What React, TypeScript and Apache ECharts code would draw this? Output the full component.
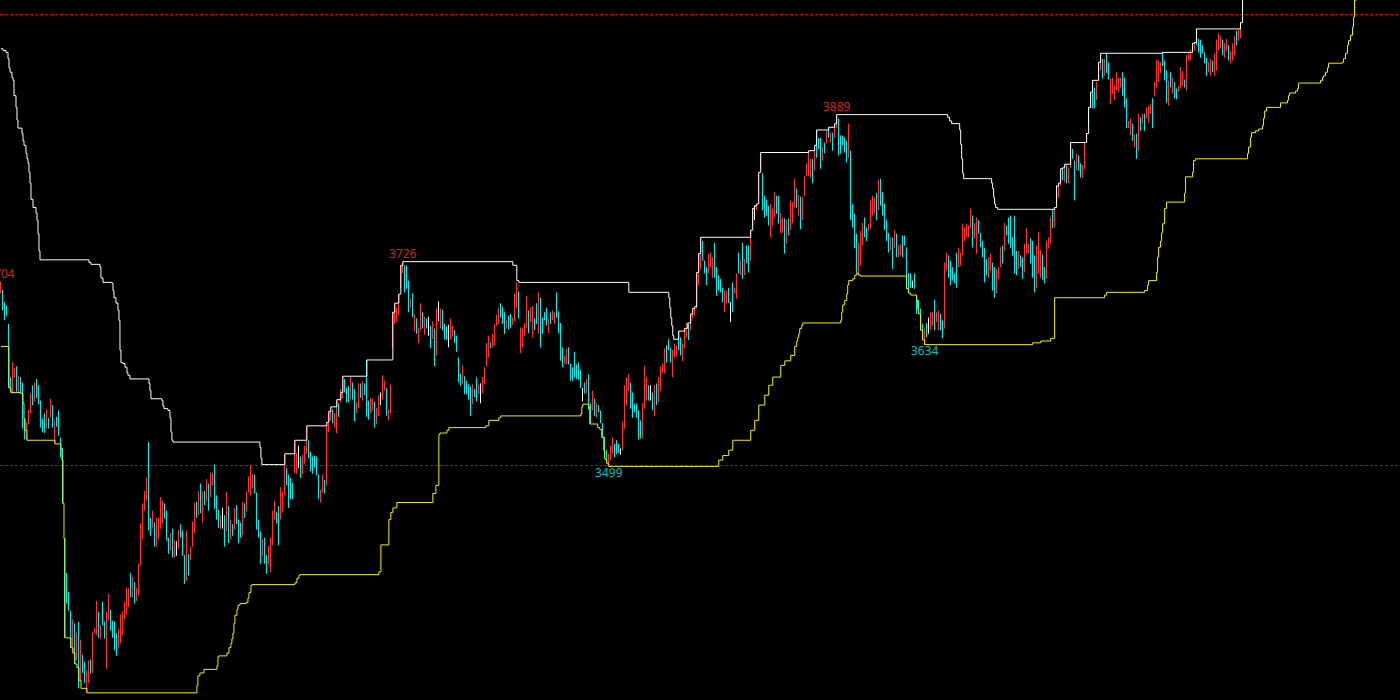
import React, { useEffect, useRef } from "react";
import * as echarts from "echarts";

// ---- candle data (index 0 = first visible bar) ----
const highs = [
  3704,3695,3681,3677,3657,3598,3615,3608,3610,3599,
  3598,3592,3551,3548,3562,3580,3589,3592,3596,3589,
  3572,3552,3558,3562,3553,3574,3567,3550,3554,3561,
  3531,3519,3419,3381,3360,3339,3330,3325,3315,3327,
  3307,3290,3282,3273,3284,3285,3315,3320,3350,3338,
  3323,3349,3327,3338,3358,3340,3328,3327,3314,3318,
  3335,3338,3349,3365,3364,3381,3377,3371,3364,3391,
  3436,3458,3472,3487,3526,3442,3450,3437,3442,3442,
  3465,3461,3458,3450,3420,3425,3430,3417,3416,3429,
  3435,3428,3401,3428,3402,3410,3438,3459,3460,3472,
  3480,3471,3472,3485,3480,3492,3492,3501,3467,3451,
  3445,3453,3445,3471,3455,3440,3435,3453,3456,3440,
  3437,3460,3458,3471,3488,3500,3490,3490,3470,3440,
  3427,3418,3420,3401,3411,3420,3450,3461,3448,3455,
  3476,3471,3513,3497,3490,3486,3481,3528,3514,3522,
  3510,3512,3522,3544,3528,3515,3510,3511,3510,3490,
  3473,3490,3484,3548,3560,3565,3562,3558,3573,3569,
  3585,3599,3596,3586,3588,3599,3592,3585,3570,3591,
  3591,3593,3591,3617,3572,3575,3574,3571,3564,3578,
  3581,3600,3594,3586,3562,3590,3670,3680,3675,3690,
  3722,3726,3722,3722,3705,3685,3691,3668,3663,3653,
  3680,3670,3665,3663,3665,3655,3660,3652,3674,3682,
  3674,3673,3657,3654,3656,3663,3655,3650,3644,3620,
  3602,3611,3599,3594,3590,3588,3590,3585,3598,3590,
  3591,3598,3609,3636,3644,3636,3646,3657,3667,3675,
  3680,3676,3670,3661,3666,3668,3664,3691,3703,3693,
  3653,3652,3658,3688,3672,3675,3677,3663,3680,3692,
  3686,3664,3670,3675,3663,3670,3672,3670,3692,3671,
  3658,3631,3622,3630,3631,3613,3609,3626,3612,3614,
  3606,3586,3592,3596,3601,3569,3583,3574,3569,3567,
  3561,3547,3532,3517,3513,3522,3531,3524,3528,3524,
  3519,3548,3589,3598,3601,3592,3581,3568,3569,3561,
  3550,3569,3610,3598,3589,3589,3581,3589,3591,3598,
  3610,3613,3630,3633,3640,3630,3628,3635,3633,3649,
  3642,3635,3652,3658,3657,3668,3674,3676,3714,3735,
  3753,3749,3727,3720,3735,3736,3731,3747,3720,3711,
  3707,3697,3694,3694,3697,3681,3703,3697,3713,3736,
  3727,3747,3729,3744,3744,3761,3785,3788,3790,3825,
  3847,3824,3799,3795,3788,3790,3785,3803,3799,3799,
  3780,3775,3774,3772,3774,3794,3792,3818,3807,3800,
  3798,3798,3821,3835,3849,3840,3840,3853,3872,3863,
  3863,3853,3858,3871,3875,3869,3869,3879,3889,3885,
  3866,3866,3864,3860,3879,3849,3790,3779,3757,3747,
  3760,3769,3775,3764,3768,3794,3799,3797,3802,3817,
  3818,3803,3790,3772,3758,3753,3753,3761,3757,3744,
  3746,3755,3755,3742,3713,3713,3705,3713,3688,3684,
  3674,3657,3652,3658,3664,3670,3670,3684,3670,3672,
  3668,3661,3725,3736,3733,3727,3720,3713,3736,3741,
  3736,3768,3764,3768,3766,3785,3777,3769,3775,3772,
  3758,3749,3741,3729,3731,3735,3725,3720,3718,3720,
  3742,3744,3769,3766,3775,3777,3753,3777,3738,3738,
  3733,3731,3746,3763,3746,3752,3749,3733,3744,3759,
  3739,3734,3720,3749,3753,3775,3784,3786,3810,3813,
  3829,3830,3834,3833,3830,3858,3851,3838,3846,3844,
  3835,3833,3858,3868,3897,3914,3927,3919,3925,3947,
  3957,3951,3951,3957,3947,3929,3930,3921,3936,3930,
  3930,3936,3930,3907,3882,3885,3879,3867,3868,3890,
  3886,3890,3890,3897,3899,3901,3907,3925,3950,3949,
  3947,3958,3949,3938,3927,3936,3930,3925,3918,3921,
  3942,3937,3928,3955,3957,3961,3968,3969,3984,3973,
  3972,3966,3958,3952,3947,3951,3949,3957,3972,3979,
  3976,3972,3968,3973,3966,3959,3968,3976,3982,3983,
  3991,4049,
];

const lows = [
  3691,3672,3661,3666,3586,3581,3581,3598,3582,3581,
  3580,3541,3529,3528,3546,3558,3567,3571,3575,3568,
  3542,3537,3536,3541,3541,3553,3542,3524,3543,3533,
  3509,3458,3309,3347,3339,3298,3292,3280,3284,3253,
  3262,3270,3259,3248,3259,3269,3270,3314,3312,3309,
  3308,3323,3308,3275,3328,3317,3309,3295,3289,3298,
  3303,3312,3330,3335,3343,3354,3354,3347,3350,3356,
  3389,3419,3450,3461,3428,3422,3431,3410,3410,3419,
  3430,3436,3441,3417,3402,3406,3398,3398,3400,3408,
  3420,3400,3369,3372,3378,3395,3410,3425,3442,3445,
  3447,3437,3456,3460,3450,3465,3478,3452,3440,3431,
  3430,3430,3410,3427,3414,3418,3422,3429,3435,3414,
  3420,3423,3442,3449,3470,3467,3475,3469,3429,3420,
  3391,3399,3391,3380,3390,3382,3412,3440,3436,3412,
  3440,3448,3467,3478,3453,3463,3463,3492,3491,3497,
  3486,3490,3502,3513,3508,3494,3491,3498,3489,3463,
  3459,3470,3469,3478,3537,3550,3547,3542,3536,3554,
  3570,3575,3581,3570,3570,3574,3573,3549,3558,3564,
  3575,3572,3578,3554,3551,3558,3561,3542,3546,3555,
  3567,3573,3583,3555,3550,3558,3630,3657,3659,3667,
  3697,3713,3692,3696,3670,3675,3664,3649,3646,3636,
  3650,3652,3645,3652,3644,3630,3640,3610,3622,3660,
  3652,3650,3640,3639,3631,3640,3643,3636,3626,3592,
  3588,3590,3579,3579,3573,3555,3568,3576,3571,3579,
  3569,3580,3590,3610,3620,3630,3631,3633,3655,3657,
  3664,3657,3646,3652,3651,3653,3656,3660,3675,3663,
  3625,3631,3644,3652,3647,3659,3642,3650,3657,3646,
  3631,3646,3661,3655,3647,3657,3661,3657,3664,3647,
  3616,3609,3613,3612,3612,3594,3594,3598,3596,3595,
  3586,3571,3580,3580,3562,3547,3561,3555,3553,3559,
  3547,3531,3508,3503,3499,3506,3513,3509,3513,3514,
  3512,3517,3541,3567,3583,3563,3553,3559,3553,3529,
  3530,3530,3563,3572,3572,3572,3561,3555,3567,3570,
  3583,3603,3602,3614,3628,3614,3598,3620,3621,3628,
  3622,3616,3630,3642,3639,3650,3663,3666,3674,3700,
  3718,3727,3713,3700,3713,3720,3708,3708,3688,3694,
  3692,3681,3670,3680,3680,3659,3670,3691,3685,3713,
  3711,3707,3711,3724,3714,3727,3766,3772,3783,3797,
  3829,3783,3775,3777,3766,3753,3766,3775,3779,3768,
  3758,3758,3735,3746,3755,3761,3769,3786,3786,3777,
  3762,3772,3799,3821,3821,3819,3813,3827,3841,3851,
  3829,3838,3846,3857,3863,3858,3849,3863,3874,3844,
  3846,3855,3847,3836,3841,3772,3764,3741,3713,3711,
  3722,3744,3753,3749,3760,3763,3777,3780,3772,3783,
  3788,3777,3761,3749,3736,3738,3718,3741,3731,3731,
  3733,3731,3744,3696,3691,3697,3697,3696,3668,3668,
  3650,3639,3634,3642,3646,3650,3655,3650,3659,3650,
  3650,3641,3652,3716,3708,3700,3705,3702,3697,3720,
  3722,3733,3749,3753,3753,3763,3742,3752,3735,3757,
  3742,3731,3703,3711,3708,3716,3694,3686,3691,3707,
  3720,3724,3738,3755,3746,3741,3733,3713,3711,3718,
  3720,3707,3714,3735,3735,3724,3708,3692,3697,3713,
  3708,3706,3702,3707,3741,3746,3763,3764,3792,3797,
  3810,3816,3814,3813,3813,3830,3840,3794,3827,3827,
  3819,3819,3829,3858,3877,3897,3896,3896,3905,3930,
  3938,3929,3932,3935,3928,3901,3912,3905,3916,3914,
  3919,3910,3897,3874,3874,3866,3860,3853,3840,3849,
  3871,3879,3871,3885,3880,3890,3874,3910,3919,3925,
  3935,3943,3927,3902,3899,3919,3912,3907,3906,3914,
  3918,3921,3919,3916,3949,3949,3958,3960,3966,3958,
  3952,3957,3946,3932,3936,3932,3936,3932,3938,3960,
  3963,3955,3952,3960,3949,3946,3949,3955,3966,3971,
  3974,4004,
];

// u = rising bar (red), d = falling bar (cyan), w = doji (white)
const dirs = [
  "uddddduudu","ddduuududd","dddudududd","ddddddudud","udduuduuud",
  "udduuddddu","uuuuududuu","uuuudduduu","uuddduduwu","ddduduuudu",
  "dududuuddd","uwdudududd","duduuuuddd","dudduuuudd","uuudddduuw",
  "duuudddddd","uuduuuduud","uudddudduu","duddduuduu","wuuduuuuuu",
  "uudddududu","ududwduduw","udddwuuddd","dudddduddu","wuuuuduuuu",
  "dddudduuud","uuuuduuddu","dddduduudd","dduudddddd","dwduddudud",
  "dddduuuddd","wuuuuddddd","duuudwdudu","uuuddduuud","duuuduuuuu",
  "uddduuuddd","dduudwduud","ududduuwuu","udddduuudd","uududuuudu",
  "duuuuududd","dudududuud","dddduddddu","uudduuuudu","dddddududu",
  "udddddwddd","ddudwuuduu","dduudddddu","uuuuuuduud","dddduudduu",
  "ududdddddu","dduuuddduu","udduuududu","ududuuddud","duuududduu",
  "ududduuuuu","uddduududu","duduuuduuu","udddududdu","uuduuududd",
  "dddduuduuu","uduuduuudu","uu",
].join("");

// channel lines: [bar index, price] break points (step lines)
const upperBand: [number, number][] = [
  [0,3962],[1,3960],[2.5,3958],[3.5,3951],[4,3941],[4.5,3936],[5.5,3930],[6,3927],[6.5,3910],[7.5,3897],
  [8,3883],[8.5,3874],[10.5,3868],[11,3860],[11.5,3855],[12.5,3846],[13,3840],[13.5,3835],[14,3825],[14.5,3813],
  [15,3795],[16,3786],[17.5,3780],[18,3772],[18.5,3757],[19,3738],[19.5,3728],
  [44,3725],[45,3723],[49.5,3720],[50,3708],[51,3703],[55.5,3702],[56,3694],[56.5,3686],[57.5,3680],[58.5,3672],
  [59,3661],[59.5,3628],[60,3614],[61,3613],[62,3609],[63,3603],[63.5,3600],[64.5,3596],
  [74,3591],[74.5,3583],[75,3574],[80.5,3572],[81,3566],[81.5,3563],[83.5,3561],[84.5,3553],[85,3537],[85.5,3528],[86,3526],
  [129.5,3520],[130,3508],[130.5,3501],
  [142,3513],[147,3528],[153,3544],[163,3548],[164,3560],[165,3565],[168,3573],[170,3581],[171,3599],
  [183,3617],[196,3670],[197,3680],[199,3690],[200,3722],[201,3726],
  [256,3722],[258,3705],[259,3703],[314,3692],
  [334,3686],[334.5,3675],[335,3664],[335.5,3655],[336,3644],[336.5,3640],
  [339,3649],[342,3652],[343.5,3658],[345,3668],[346,3674],[347,3676],[348,3714],[349,3735],[350,3753],
  [375,3761],[376,3785],[377,3788],[378,3790],[379,3825],[380,3847],
  [404,3849],[407,3855],[408,3872],[414,3875],[417,3879],[418,3889],
  [473.5,3886],[474.5,3882],[475.5,3879],[479.5,3872],[480,3856],[480.5,3840],[481,3824],[481.5,3818],
  [495.5,3813],[496,3807],[496.5,3797],[497,3790],[497.5,3786],[498.5,3784],
  [527,3786],[528,3810],[529,3813],[530,3829],[531,3830],[532,3834],[535,3858],
  [543,3868],[544,3897],[545,3914],[546,3927],[549,3947],[550,3957],
  [581,3958],[596,3968],[597,3969],[598,3984],[620,3991],[621,4049],
];

const lowerBand: [number, number][] = [
  [0,3632],[4,3586],[5,3581],[10,3580],[11,3569],[11.5,3552],[12,3539],[13,3528],[27,3524],[30,3519],
  [30.5,3506],[31,3458],[31.5,3419],[32,3309],[35,3298],[36,3292],[37,3280],[38,3276],[39,3262],[40,3253],[43,3248],
  [98,3256],[98.5,3267],[99.5,3270],[101.5,3274],[108,3278],[108.5,3288],[109,3289],[113,3292],[114,3298],[115,3303],
  [115.5,3308],[116,3314],[116.5,3325],[117,3334],[118,3340],[118.5,3345],[119.5,3347],[122.5,3348],[123.5,3353],
  [124,3359],[125,3367],[125.5,3368],
  [147,3370],[148,3375],[149,3378],[149.5,3379],
  [189,3382],[190,3412],[194,3440],[195,3448],[196,3453],[198,3459],
  [216,3469],[217.5,3478],[219,3534],[219.5,3536],[223,3539],[224,3542],[242.5,3544],[244,3550],[249,3553],[250,3555],
  [290,3557],[290.5,3565],[291,3568],[294,3565],[294.5,3546],[298.5,3542],[299.5,3540],[300.5,3531],[301.5,3517],
  [302,3507],[303,3502],[304,3499],
  [359,3506],[361,3511],[364,3517],[366,3528],[375,3539],[377,3550],[379,3567],[382,3578],[384,3589],[386,3598],
  [390,3611],[392,3616],[395,3622],[397,3632],[398,3638],[398.5,3642],[399,3646],[399.5,3652],[400.5,3655],[401,3658],
  [420,3661],[420.5,3670],[421,3678],[422,3683],[423,3690],[423.5,3700],[424,3705],[426,3707],[427,3711],[428,3713],
  [429,3711],[430,3710],
  [453,3696],[454,3691],[455,3689],[458,3683],[458.5,3674],[459,3668],[460,3650],[461,3639],[462,3634],
  [516,3636],[520,3638],[525,3641],[527,3686],[552,3689],[553,3692],
  [572,3694],[573.5,3700],[574,3705],[578,3714],[578.5,3731],[579,3742],[580,3749],[580.5,3758],[581,3768],
  [582,3785],[583,3792],[592,3802],[592.5,3820],[596,3825],[596.5,3838],[597.5,3840],
  [623.5,3846],[624,3853],[625,3864],[625.5,3869],[627.5,3871],[629,3873],[631,3877],[631.5,3885],[632,3893],
  [633,3897],[640,3902],[643.5,3905],[644,3910],[644.5,3913],[647.5,3915],[648.5,3918],[649,3924],[660,3927],
  [661,3930],[661.5,3932],[662.5,3936],[663.5,3941],[664,3946],[671,3947],[671.5,3951],[672.5,3957],[673.5,3966],
  [674,3971],[675,3977],[676,3986],[676.5,3997],[677,4016],[678,4030],
];

const levelLines = [4000, 3500];
const highMarks: [number, number][] = [[0, 3704], [201, 3726], [418, 3889]];
const lowMarks: [number, number][] = [[304, 3499], [462, 3634]];

const BAR_SLOTS = 700;
const PRICE_MIN = 3240.05;
const PRICE_MAX = 4016.05;

const UP = "#ff3434";
const DOWN = "#00f0f0";
const LEVEL = "#e00000";

export default function App() {
  const ref = useRef<HTMLDivElement>(null);

  useEffect(() => {
    if (!ref.current) return;
    const chart = echarts.init(ref.current, null, { renderer: "svg" });

    const n = Math.min(highs.length, lows.length, dirs.length);
    const candles: number[][] = [];
    for (let i = 0; i < n; i++) {
      const h = highs[i];
      const l = lows[i];
      const d = dirs[i];
      if (d === "u") candles.push([l, h, l, h]);
      else if (d === "d") candles.push([h, l, l, h]);
      else {
        const m = (h + l) / 2;
        candles.push([m, m, l, h]);
      }
    }
    const cats = Array.from({ length: BAR_SLOTS }, (_, i) => String(i));

    const levelSeries = levelLines.map((v) => ({
      type: "line",
      xAxisIndex: 1,
      data: [
        [-0.5, v],
        [BAR_SLOTS - 0.5, v],
      ],
      symbol: "none",
      silent: true,
      lineStyle: { color: LEVEL, width: 1, type: [3, 2], opacity: 1 },
      z: 1,
    }));

    chart.setOption({
      animation: false,
      backgroundColor: "#000000",
      grid: { left: -0.5, right: 0.5, top: 0, bottom: 0 },
      xAxis: [
        { type: "category", data: cats, boundaryGap: true, show: false },
        { type: "value", min: -0.5, max: BAR_SLOTS - 0.5, show: false },
      ],
      yAxis: {
        type: "value",
        min: PRICE_MIN,
        max: PRICE_MAX,
        show: false,
        splitLine: { show: false },
      },
      series: [
        ...levelSeries,
        {
          type: "candlestick",
          xAxisIndex: 0,
          data: candles,
          large: false,
          barWidth: 0.4,
          itemStyle: {
            color: UP,
            color0: DOWN,
            borderColor: UP,
            borderColor0: DOWN,
            borderColorDoji: "#ffffff",
            borderWidth: 1,
          },
          z: 2,
        },
        {
          type: "line",
          xAxisIndex: 1,
          data: upperBand,
          step: "end",
          symbol: "none",
          lineStyle: { color: "#ffffff", width: 1 },
          z: 3,
        },
        {
          type: "line",
          xAxisIndex: 1,
          data: lowerBand,
          step: "end",
          symbol: "none",
          lineStyle: { color: "#f0f000", width: 1 },
          z: 3,
        },
        {
          type: "scatter",
          xAxisIndex: 1,
          data: highMarks,
          symbolSize: 0,
          label: {
            show: true,
            position: "top",
            distance: 2,
            color: UP,
            fontSize: 12,
            fontFamily: "Noto Sans",
            formatter: (p: any) => String(p.value[1]),
          },
          z: 5,
        },
        {
          type: "scatter",
          xAxisIndex: 1,
          data: lowMarks,
          symbolSize: 0,
          label: {
            show: true,
            position: "bottom",
            distance: 0,
            color: DOWN,
            fontSize: 12,
            fontFamily: "Noto Sans",
            formatter: (p: any) => String(p.value[1]),
          },
          z: 5,
        },
      ],
    });

    return () => chart.dispose();
  }, []);

  return (
    <div
      ref={ref}
      style={{ position: "absolute", left: 0, top: 0, width: 1400, height: 700, background: "#000" }}
    />
  );
}
